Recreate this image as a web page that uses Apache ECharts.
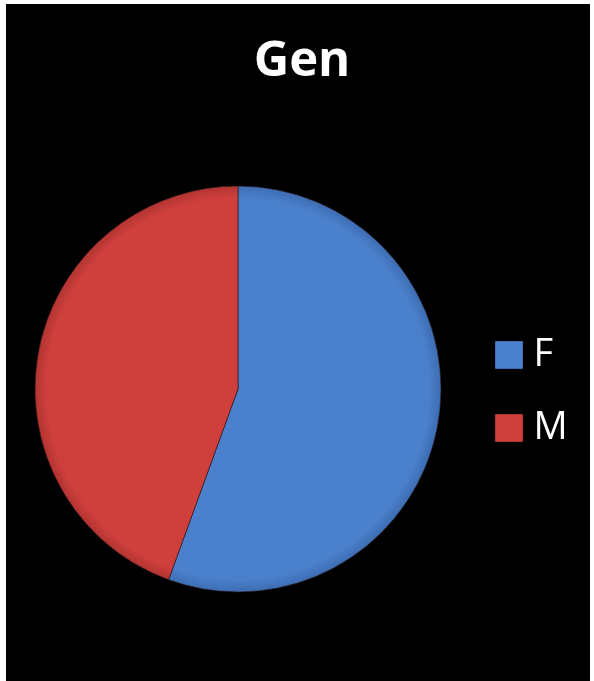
<!DOCTYPE html>
<html>
<head>
<meta charset="utf-8">
<script src="https://cdn.jsdelivr.net/npm/echarts@6/dist/echarts.min.js"></script>
<style>
html,body{margin:0;padding:0;background:#fff;}
#main{width:594px;height:681px;}
</style>
</head>
<body>
<div id="main"></div>
<script>
var categories = ['F', 'M'];
var values = [5, 4];
var colors = ['#4a80cc', '#cf403d'];
var edgeColors = ['#3d6db2', '#b23431'];

var chart = echarts.init(document.getElementById('main'));
var data = categories.map(function (c, i) {
  return {
    name: c,
    value: values[i],
    itemStyle: {
      color: {
        type: 'radial', x: 238, y: 389, r: 203, global: true,
        colorStops: [
          { offset: 0, color: colors[i] },
          { offset: 0.94, color: colors[i] },
          { offset: 1, color: edgeColors[i] }
        ]
      }
    }
  };
});
chart.setOption({
  backgroundColor: '#ffffff',
  graphic: [{
    type: 'rect', z: -10, silent: true,
    shape: { x: 6, y: 4, width: 584, height: 677 },
    style: { fill: '#000000' }
  }],
  title: {
    text: 'Gen',
    left: 297, top: 33,
    textAlign: 'center',
    textStyle: { color: '#ffffff', fontSize: 49, fontWeight: 'bold', fontFamily: 'Open Sans' }
  },
  legend: {
    orient: 'vertical',
    left: 490, top: 331,
    itemWidth: 27, itemHeight: 27, itemGap: 35,
    icon: 'rect',
    data: categories.map(function (c, i) {
      return { name: c, itemStyle: { color: colors[i], borderColor: edgeColors[i], borderWidth: 1 } };
    }),
    textStyle: { color: '#ffffff', fontSize: 38, fontFamily: 'Open Sans', padding: [0, 0, 0, 6] }
  },
  series: [{
    type: 'pie',
    center: [238, 389],
    radius: 203,
    startAngle: 90,
    clockwise: true,
    label: { show: false },
    labelLine: { show: false },
    itemStyle: { borderColor: 'rgba(40,20,20,0.6)', borderWidth: 1 },
    emphasis: { disabled: true },
    animation: false,
    data: data
  }]
});
</script>
</body>
</html>
